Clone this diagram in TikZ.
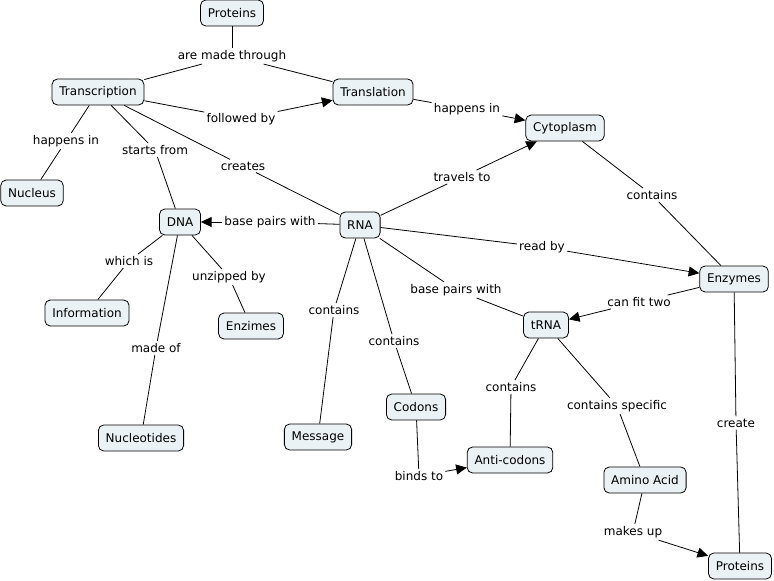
\documentclass[tikz,border=0pt]{standalone}
\usepackage{fontspec}
\setmainfont{DejaVu Sans}
\usetikzlibrary{arrows.meta}
\definecolor{boxfill}{HTML}{EBF2F5}
\tikzset{
  concept/.style={draw=black, fill=boxfill, rounded corners=4pt, line width=0.6pt,
    minimum height=19.5pt, inner xsep=5.5pt, inner ysep=2pt},
  phrase/.style={inner sep=1.5pt, fill=white},
  link/.style={draw=black, line width=0.6pt},
  linkarrow/.style={link, -{Triangle[length=8pt,width=7.5pt]}}
}

\begin{document}
\begin{tikzpicture}[x=0.75pt, y=-0.75pt, font=\fontsize{9}{10.5}\selectfont]
  \useasboundingbox (0,0) rectangle (774,581);

  % concepts
  \node[concept] (proteinsA) at (232,13) {Proteins};
  \node[concept] (transcription) at (98,92) {Transcription};
  \node[concept] (translation) at (373,92) {Translation};
  \node[concept] (cytoplasm) at (565,128) {Cytoplasm};
  \node[concept] (nucleus) at (32,193) {Nucleus};
  \node[concept] (dna) at (180,222) {DNA};
  \node[concept] (rna) at (360,225) {RNA};
  \node[concept] (information) at (87,313) {Information};
  \node[concept] (enzimes) at (251,326) {Enzimes};
  \node[concept] (enzymes) at (734,279) {Enzymes};
  \node[concept] (trna) at (546,325) {tRNA};
  \node[concept] (codons) at (416,407) {Codons};
  \node[concept] (message) at (318,437) {Message};
  \node[concept] (nucleotides) at (141,438) {Nucleotides};
  \node[concept] (anticodons) at (510,460) {Anti-codons};
  \node[concept] (aminoacid) at (645,480) {Amino Acid};
  \node[concept] (proteinsB) at (740,566) {Proteins};

  % linking phrases
  \node[phrase] (madethrough) at (232,56) {are made through};
  \node[phrase] (followedby) at (241,119) {followed by};
  \node[phrase] (happensinA) at (66,141) {happens in};
  \node[phrase] (startsfrom) at (155,150) {starts from};
  \node[phrase] (creates) at (243,166) {creates};
  \node[phrase] (happensinB) at (467,109) {happens in};
  \node[phrase] (travelsto) at (462,177) {travels to};
  \node[phrase] (containsA) at (652,195) {contains};
  \node[phrase] (basepairsA) at (270,222) {base pairs with};
  \node[phrase] (whichis) at (129,261) {which is};
  \node[phrase] (unzippedby) at (229,277) {unzipped by};
  \node[phrase] (readby) at (542,247) {read by};
  \node[phrase] (basepairsB) at (456,290) {base pairs with};
  \node[phrase] (canfittwo) at (639,302) {can fit two};
  \node[phrase] (madeof) at (156,348) {made of};
  \node[phrase] (containsB) at (334,310) {contains};
  \node[phrase] (containsC) at (394,341) {contains};
  \node[phrase] (containsD) at (511,387) {contains};
  \node[phrase] (containsspec) at (617,406) {contains specific};
  \node[phrase] (create) at (736,423) {create};
  \node[phrase] (bindsto) at (419,476) {binds to};
  \node[phrase] (makesup) at (633,532) {makes up};

  % plain links
  \foreach \a/\b in {proteinsA/madethrough, madethrough/transcription,
      madethrough/translation, transcription/followedby, transcription/happensinA,
      happensinA/nucleus, transcription/startsfrom, startsfrom/dna,
      transcription/creates, creates/rna, translation/happensinB, rna/travelsto,
      cytoplasm/containsA, containsA/enzymes, rna/basepairsA, dna/whichis,
      whichis/information, dna/unzippedby, unzippedby/enzimes, dna/madeof,
      madeof/nucleotides, rna/readby, rna/basepairsB, basepairsB/trna,
      enzymes/canfittwo, rna/containsB, containsB/message, rna/containsC,
      containsC/codons, trna/containsD, containsD/anticodons, trna/containsspec,
      containsspec/aminoacid, enzymes/create, create/proteinsB, codons/bindsto,
      aminoacid/makesup}
    \draw[link] (\a) -- (\b);

  % arrows
  \draw[linkarrow] (followedby) -- (translation);
  \draw[linkarrow] (happensinB) -- (cytoplasm);
  \draw[linkarrow] (travelsto) -- (cytoplasm);
  \draw[linkarrow] (basepairsA) -- (dna);
  \draw[linkarrow] (readby) -- (enzymes);
  \draw[linkarrow] (canfittwo) -- (trna);
  \draw[linkarrow] (bindsto) -- (anticodons);
  \draw[linkarrow] (makesup) -- (proteinsB);
\end{tikzpicture}
\end{document}
